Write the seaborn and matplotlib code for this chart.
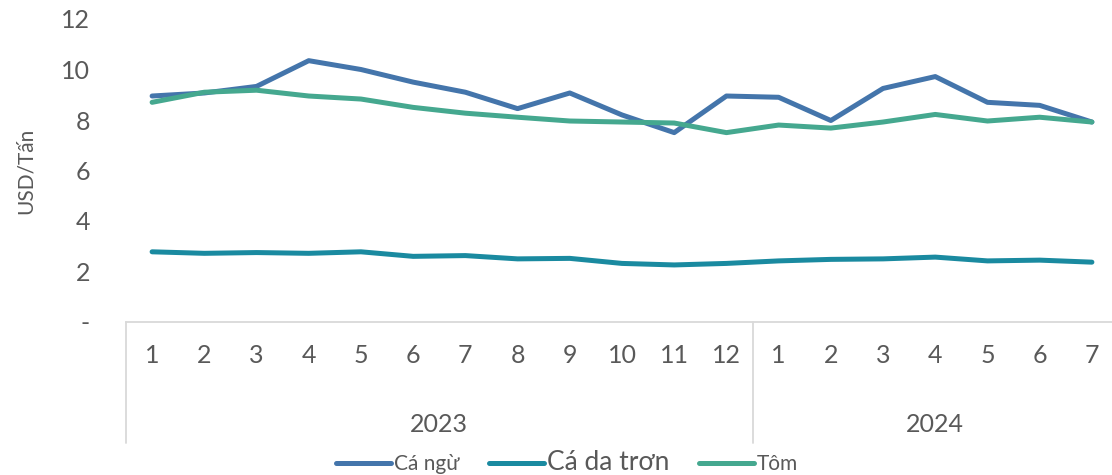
import matplotlib
matplotlib.use("Agg")
import matplotlib.pyplot as plt
import matplotlib.transforms as mtransforms
import seaborn as sns
import pandas as pd
import numpy as np

# ---- data ----
months = ["1", "2", "3", "4", "5", "6", "7", "8", "9", "10", "11", "12",
          "1", "2", "3", "4", "5", "6", "7"]
years = ["2023", "2024"]
year_counts = [12, 7]
series_names = ["Cá ngừ", "Cá da trơn", "Tôm"]
ca_ngu = [8.95, 9.07, 9.33, 10.35, 10.0, 9.5, 9.1, 8.45, 9.07, 8.2, 7.5, 8.95,
          8.9, 7.98, 9.25, 9.72, 8.7, 8.58, 7.92]
ca_da_tron = [2.78, 2.72, 2.75, 2.72, 2.78, 2.6, 2.63, 2.5, 2.52, 2.32, 2.26, 2.32,
              2.42, 2.48, 2.5, 2.57, 2.42, 2.45, 2.37]
tom = [8.7, 9.1, 9.18, 8.95, 8.83, 8.5, 8.27, 8.11, 7.96, 7.92, 7.88, 7.5,
       7.8, 7.68, 7.92, 8.22, 7.96, 8.11, 7.92]
y_ticks = [0, 2, 4, 6, 8, 10, 12]
y_ticklabels = ["-", "2", "4", "6", "8", "10", "12"]
colors = ["#4475AB", "#1A8AA0", "#45A88F"]

# ---- build long-form table ----
idx = list(range(len(months)))
df = pd.DataFrame({
    "idx": idx * 3,
    "value": ca_ngu + ca_da_tron + tom,
    "series": sum([[s] * len(months) for s in series_names], []),
})

sns.set_theme(style="white")
plt.rcParams["font.family"] = ["Lato", "DejaVu Sans"]
text_color = "#595959"

fig = plt.figure(figsize=(11.12, 4.75), dpi=100)
ax = fig.add_axes([126 / 1112, 1 - 322 / 475, 992 / 1112, (322 - 19) / 475])

sns.lineplot(data=df, x="idx", y="value", hue="series", hue_order=series_names,
             palette=colors, linewidth=3.6, ax=ax, legend=False,
             solid_capstyle="round")

ax.set_xlim(-0.5, len(months) - 0.5)
ax.set_ylim(0, 12)
ax.set_yticks(y_ticks)
ax.set_yticklabels(y_ticklabels)
ax.set_xticks(idx)
ax.set_xticklabels(months)
ax.tick_params(axis="y", length=0, pad=26, labelsize=18, labelcolor=text_color)
ax.tick_params(axis="x", length=0, pad=16, labelsize=18, labelcolor=text_color)
ax.set_xlabel("")
ax.set_ylabel("USD/Tấn", fontsize=15, color=text_color, labelpad=18)

for s in ["top", "right", "left"]:
    ax.spines[s].set_visible(False)
ax.spines["bottom"].set_color("#D9D9D9")
ax.spines["bottom"].set_linewidth(1.3)

# year group labels and separators
trans = mtransforms.blended_transform_factory(ax.transData, ax.transAxes)
start = 0
bottom_y = -(443 - 322) / (322 - 19)
ax.plot([-0.5, -0.5], [0, bottom_y], transform=trans, color="#D9D9D9",
        lw=1.3, clip_on=False)
for yr, cnt in zip(years, year_counts):
    center = start + (cnt - 1) / 2
    ax.text(center, -(425 - 322) / (322 - 19), yr, transform=trans,
            ha="center", va="center", fontsize=18, color=text_color)
    end = start + cnt - 0.5
    if end < len(months) - 0.5:
        ax.plot([end, end], [0, bottom_y], transform=trans, color="#D9D9D9",
                lw=1.3, clip_on=False)
    start += cnt

# legend
handles = [plt.Line2D([0], [0], color=c, lw=3.6, solid_capstyle="round") for c in colors]
leg = fig.legend(handles, series_names, loc="center", bbox_to_anchor=(0.51, 1 - 463 / 475),
                 ncol=3, frameon=False, fontsize=15, handlelength=2.65,
                 handletextpad=0.15, columnspacing=1.4, labelcolor=text_color)
leg.get_texts()[1].set_fontsize(19)

fig.savefig("out.png", dpi=100)
